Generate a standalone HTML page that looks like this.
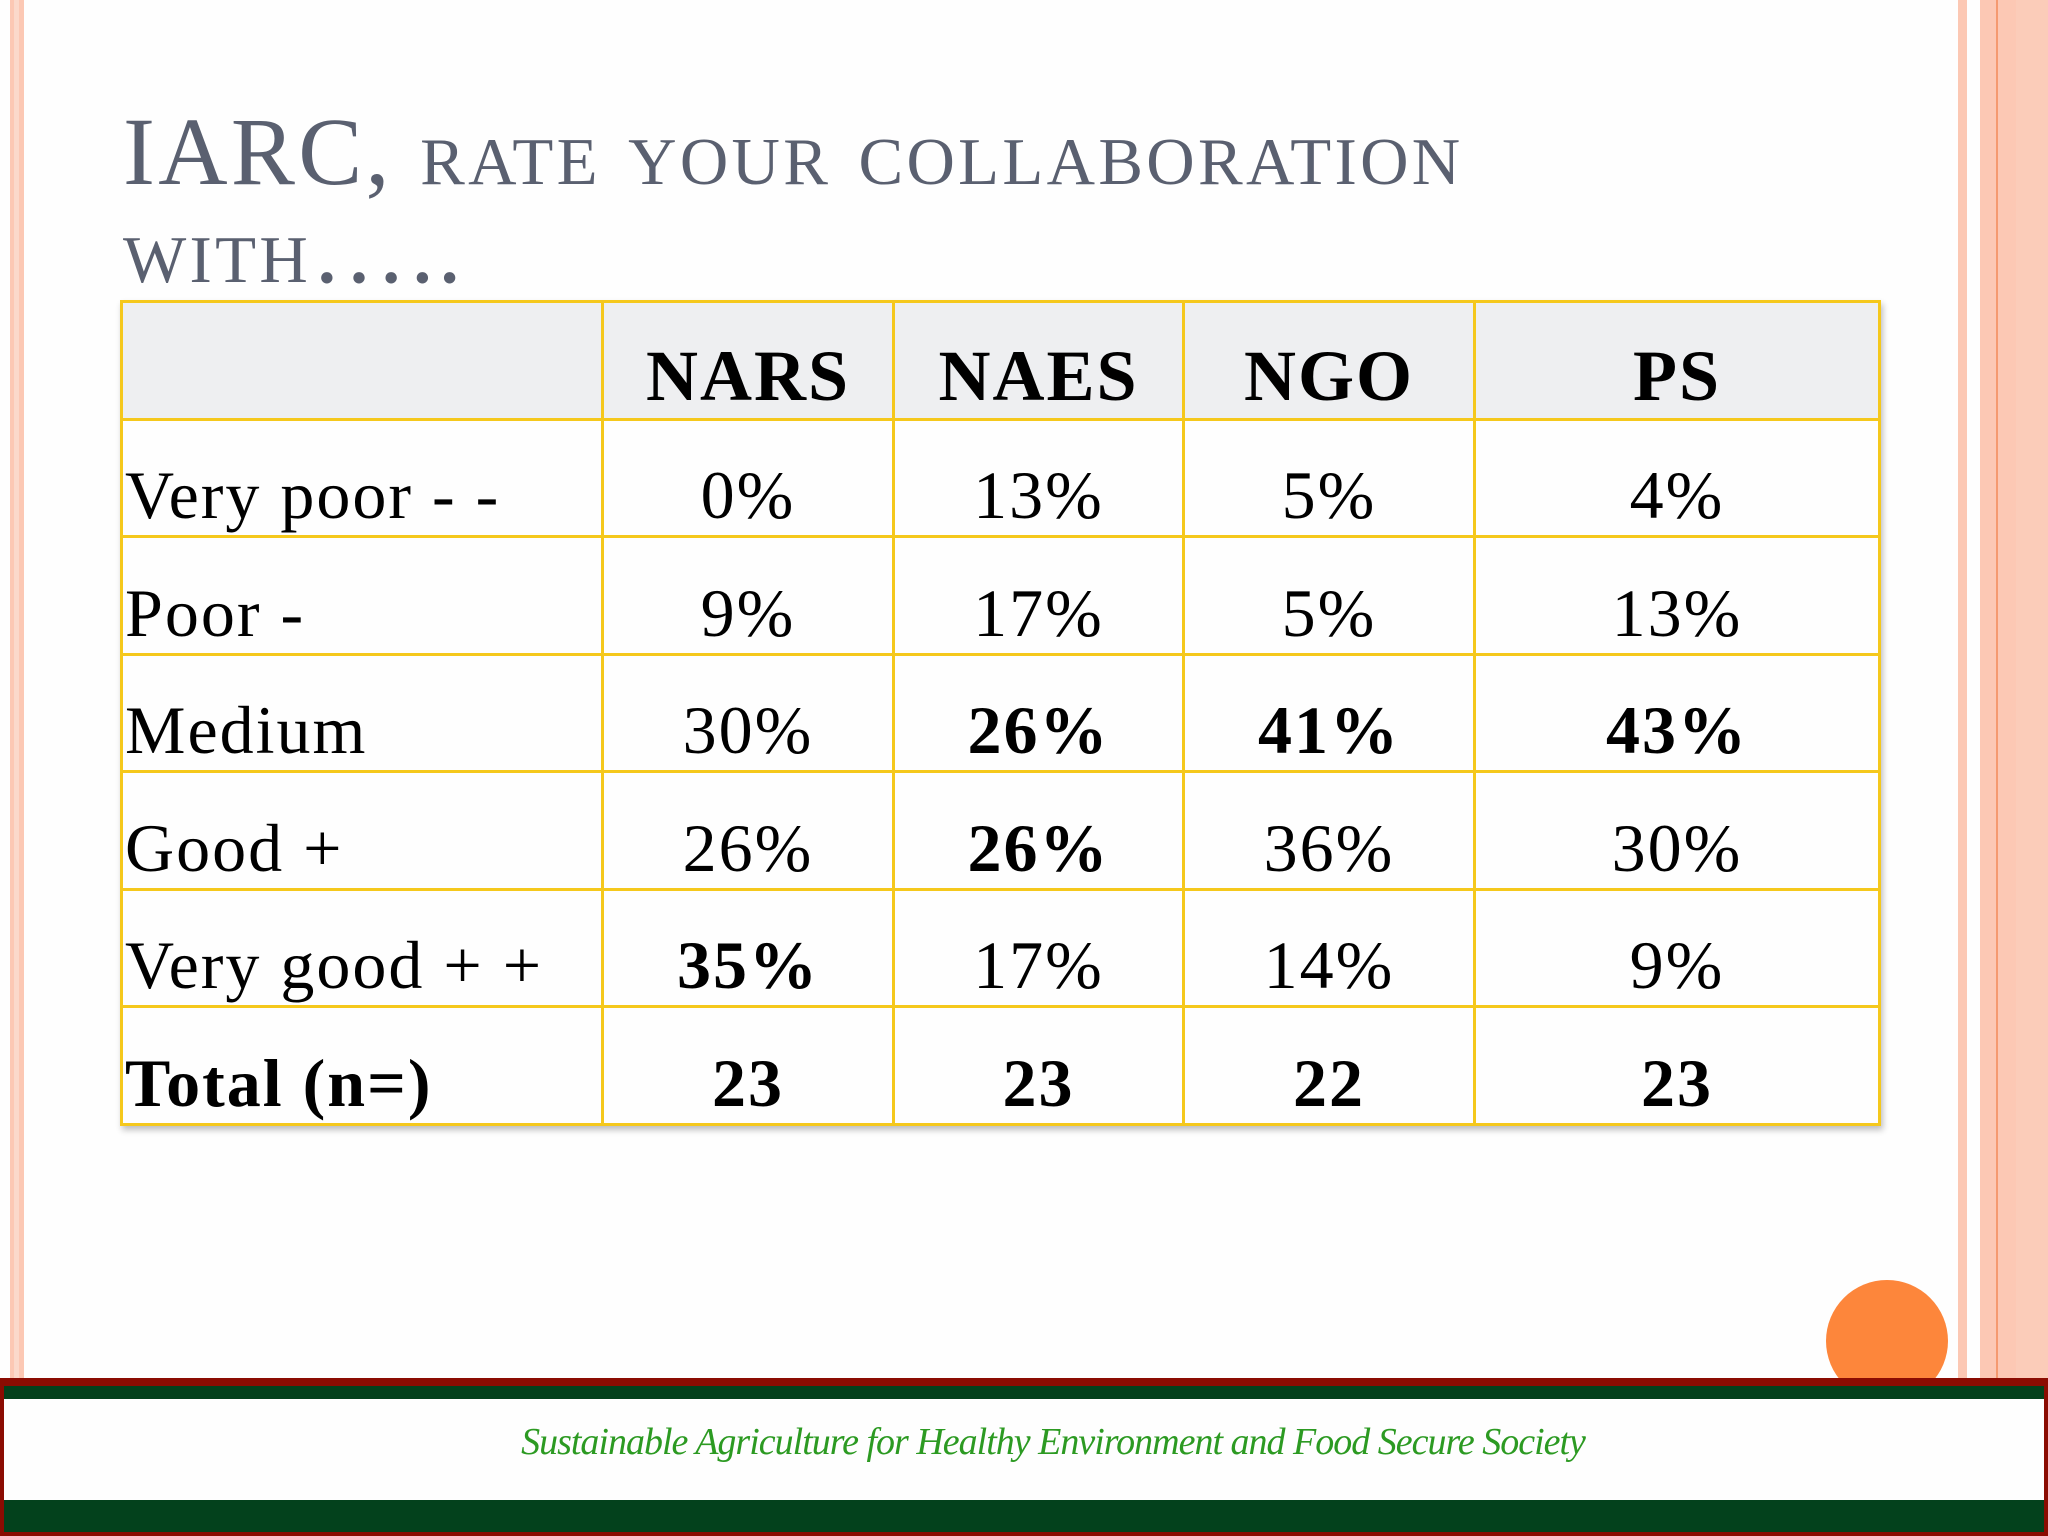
<!DOCTYPE html>
<html><head><meta charset="utf-8"><style>
body{margin:0;width:2048px;height:1536px;position:relative;overflow:hidden;background:#fefefe;font-family:"Liberation Serif",serif}
.a{position:absolute}
table{position:absolute;left:120px;top:300px;border-collapse:collapse;box-shadow:2px 4px 6px rgba(0,0,0,0.25)}
td{border:3px solid #f5c81c;height:117.5px;box-sizing:border-box;padding:0;font-size:68px;letter-spacing:2px;text-align:center;vertical-align:bottom;line-height:1;padding-bottom:6px;color:#000}
td.l{text-align:left;padding-left:2px}
tr.h td{background:#eeeff1;font-weight:bold;font-size:72px}
.b{font-weight:bold}
</style></head><body>
<div class="a" style="left:10px;top:0;width:14px;height:1378px;background:#fcc8b4"></div>
<div class="a" style="left:14px;top:0;width:5px;height:1378px;background:#fbd9cb"></div>
<div class="a" style="left:1958px;top:0;width:9px;height:1378px;background:#fcc8b4"></div>
<div class="a" style="left:1980px;top:0;width:68px;height:1378px;background:#fcc8b4"></div>
<div class="a" style="left:1996px;top:0;width:2px;height:1378px;background:#f59a70"></div>
<div class="a" style="left:2016px;top:0;width:32px;height:1378px;background:#fbccb9"></div>
<div class="a" style="left:1826px;top:1280px;width:122px;height:122px;border-radius:50%;background:#fd863b"></div>

<div class="a" style="left:123px;top:103px;font-size:96px;color:#5a6070;font-variant:small-caps;line-height:98px;letter-spacing:3.3px">IARC, rate your collaboration<br>with…..</div>

<table>
<colgroup><col style="width:481px"><col style="width:291px"><col style="width:290px"><col style="width:291px"><col style="width:405px"></colgroup>
<tr class="h"><td></td><td>NARS</td><td>NAES</td><td>NGO</td><td>PS</td></tr>
<tr><td class="l">Very poor - -</td><td>0%</td><td>13%</td><td>5%</td><td>4%</td></tr>
<tr><td class="l">Poor -</td><td>9%</td><td>17%</td><td>5%</td><td>13%</td></tr>
<tr><td class="l">Medium</td><td>30%</td><td class="b">26%</td><td class="b">41%</td><td class="b">43%</td></tr>
<tr><td class="l">Good +</td><td>26%</td><td class="b">26%</td><td>36%</td><td>30%</td></tr>
<tr><td class="l">Very good + +</td><td class="b">35%</td><td>17%</td><td>14%</td><td>9%</td></tr>
<tr><td class="l b">Total (n=)</td><td class="b">23</td><td class="b">23</td><td class="b">22</td><td class="b">23</td></tr>
</table>

<div class="a" style="left:0;top:1378px;width:2048px;height:158px;background:#8b0c02"></div>
<div class="a" style="left:4px;top:1386px;width:2040px;height:13px;background:#03411c"></div>
<div class="a" style="left:4px;top:1399px;width:2040px;height:101px;background:#fefefe"></div>
<div class="a" style="left:4px;top:1500px;width:2040px;height:32px;background:#03411c"></div>
<div class="a" style="left:0;top:1420px;width:2106px;text-align:center;font-size:38px;font-style:italic;color:#2c9a22;letter-spacing:-1px">Sustainable Agriculture for Healthy Environment and Food Secure Society</div>
</body></html>
